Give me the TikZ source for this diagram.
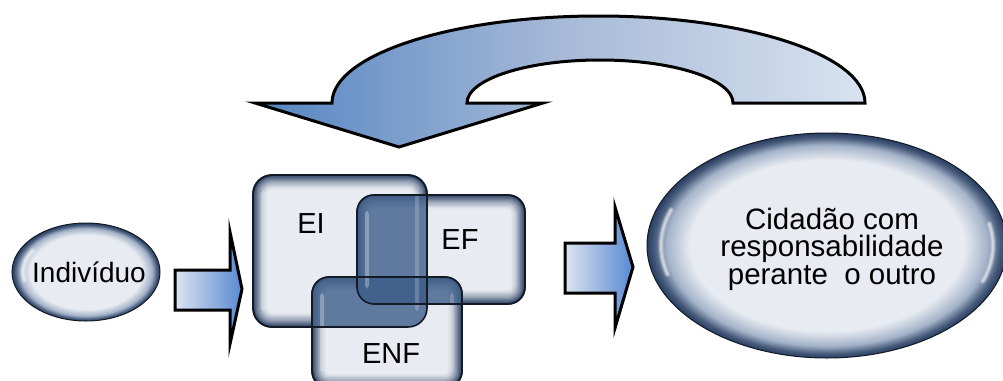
\documentclass[tikz,border=0pt]{standalone}
\usepackage{fontspec}
\setmainfont{Liberation Sans}
\usetikzlibrary{shapes.geometric}

\definecolor{glasslight}{HTML}{E8ECF2}
\definecolor{glassmid}{HTML}{A4B3C9}
\definecolor{glassdark}{HTML}{283E61}
\definecolor{rimline}{HTML}{121A26}
\definecolor{loopdark}{HTML}{5585C2}
\definecolor{loopmid}{HTML}{A6B9D7}
\definecolor{looplight}{HTML}{D9E3F0}
\definecolor{arrowlight}{HTML}{DDE4F0}
\definecolor{arrowblue}{HTML}{5889D2}
\definecolor{overlapblue}{HTML}{42618C}

% glassy ellipse: light body, dark rim (25bp = edge of the filled path)
\pgfdeclareradialshading{glassball}{\pgfpoint{0bp}{0bp}}{%
  color(0bp)=(glasslight); color(19bp)=(glasslight);
  color(22.3bp)=(glassmid); color(24bp)=(glassdark!75!glassmid);
  color(25bp)=(glassdark); color(50bp)=(glassdark)}

% soft white highlight: three stacked strokes of falling width
% #1 node, #2 x radius, #3 y radius, #4 start angle, #5 end angle
\newcommand\softglint[5]{%
  \foreach \w/\o in {6/0.18,4/0.25,2/0.4}{
    \draw[glint, line width=\w pt, opacity=\o] (#1.center) ++(#4:#2 and #3)
      arc[start angle=#4, end angle=#5, x radius=#2, y radius=#3];
  }}

\begin{document}
\begin{tikzpicture}[x=1pt,y=-1pt,
  glassellipse/.style={ellipse, draw=rimline, line width=1pt, shading=glassball,
    inner sep=0pt, outer sep=0pt},
  glassbox/.style={rectangle, rounded corners=#1, outer sep=0pt, inner sep=0pt,
    draw=rimline, line width=1.6pt,
    path picture={
      \foreach \k/\p in {0/100,1.2/86,2.4/74,3.6/63,4.8/53,6/44,7.2/36,8.4/28,9.6/21,10.8/14,12/8,13.2/3,14.4/0}{
        \pgfmathsetmacro\rr{max(#1-\k,2)}
        \fill[rounded corners=\rr pt, glassdark!\p!glasslight]
          ([shift={(\k pt,\k pt)}]path picture bounding box.south west) rectangle
          ([shift={(-\k pt,-\k pt)}]path picture bounding box.north east);
      }
    }},
  boxoutline/.style={draw=rimline, line width=1.6pt, rounded corners=#1},
  overlap/.style={fill=overlapblue, opacity=0.82, rounded corners=#1},
  strip/.style={fill=white, opacity=0.3, rounded corners=3pt},
  glint/.style={draw=white, line cap=round},
  lbl/.style={font=\fontsize{29}{30}\selectfont, text=black, inner sep=0pt},
  loop/.style={draw=black, line width=3pt, left color=loopdark, right color=looplight,
    middle color=loopmid},
  blockarrow/.style={draw=black, line width=3pt, left color=arrowlight, right color=arrowblue}
]
\useasboundingbox (0,0) rectangle (1003,380);
\clip (0,0) rectangle (1003,380);

% ---- returning loop arrow ----
\path[loop] (399,147) -- (543,103) -- (467,103)
  arc[start angle=180, end angle=0, x radius=133pt, y radius=43pt]
  -- (865,103)
  arc[start angle=0, end angle=180, x radius=266.5pt, y radius=87pt]
  -- (255,103) -- cycle;

% ---- start ellipse ----
\node[glassellipse, minimum width=148pt, minimum height=98pt] (ind) at (86,272) {};
\softglint{ind}{63pt}{40pt}{148}{192}
\node[lbl, font=\fontsize{28}{30}\selectfont] (indtext) at (89,272) {Indivíduo};

% ---- the three overlapping boxes ----
\node[glassbox=19, minimum width=174pt, minimum height=152pt] (EI) at (340,251) {};
\node[glassbox=17, minimum width=168pt, minimum height=109pt] (EF) at (441,249.5) {};
\node[glassbox=17, minimum width=150pt, minimum height=111pt] (ENF) at (387,332.5) {};

% darker tint where the boxes overlap
\begin{scope}
  \clip[rounded corners=19pt] (EI.south west) rectangle (EI.north east);
  \path[overlap=17pt] (EF.south west) rectangle (EF.north east);
  \path[overlap=17pt] (ENF.south west) rectangle (ENF.north east);
\end{scope}
\begin{scope}
  \clip[rounded corners=17pt] (EF.south west) rectangle (EF.north east);
  \path[overlap=17pt] (ENF.south west) rectangle (ENF.north east);
\end{scope}

% light vertical reflections inside the bevels
\foreach \b in {EI,EF,ENF}{
  \path[strip] ([shift={(8pt,-16pt)}]\b.north west) rectangle ([shift={(12pt,16pt)}]\b.south west);
  \path[strip, opacity=0.2] ([shift={(-12pt,-16pt)}]\b.north east) rectangle ([shift={(-8pt,16pt)}]\b.south east);
}

% outlines on top, so each edge shows through the others
\draw[boxoutline=19pt] (EI.south west) rectangle (EI.north east);
\draw[boxoutline=17pt] (EF.south west) rectangle (EF.north east);
\draw[boxoutline=17pt] (ENF.south west) rectangle (ENF.north east);

\node[lbl] (EIt) at (311,224) {EI};
\node[lbl] (EFt) at (460,240) {EF};
\node[lbl] (ENFt) at (391,353.5) {ENF};

% ---- goal ellipse ----
\node[glassellipse, minimum width=360pt, minimum height=225pt] (cid) at (827,245.5) {};
\softglint{cid}{166pt}{104pt}{160}{196}
\softglint{cid}{166pt}{104pt}{-20}{12}
\node[lbl, align=center, font=\fontsize{29.5}{27.5}\selectfont] (cidtext) at (832,249)
  {Cidadão com\\responsabilidade\\perante\ \ o outro};

% ---- block arrows between the stages ----
\path[blockarrow] (175,270) -- (230,270) -- (230,232) -- (242,289)
  -- (230,344) -- (230,310) -- (175,310) -- cycle;
\path[blockarrow] (565,243) -- (615,243) -- (615,207) -- (633,267)
  -- (615,328) -- (615,293) -- (565,293) -- cycle;
\end{tikzpicture}
\end{document}
